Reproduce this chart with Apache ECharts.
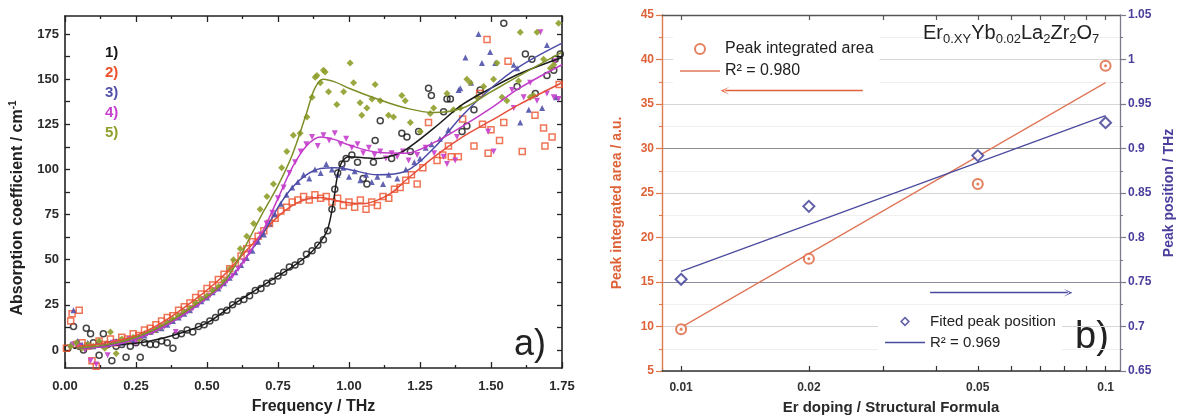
<!DOCTYPE html>
<html>
<head>
<meta charset="utf-8">
<script src="https://cdn.jsdelivr.net/npm/echarts@6/dist/echarts.min.js"></script>
<style>
html, body { margin: 0; padding: 0; background: #fff; }
#main { width: 1181px; height: 420px; }
</style>
</head>
<body>
<div id="main"></div>
<script>
// panel a) absorption spectra as [frequency THz, absorption cm-1]
var s1Points = [[0.01,1],[0.03,13],[0.05,2],[0.065,0],[0.075,12],[0.09,9],[0.1,4],[0.12,-3],[0.135,9],[0.15,3],[0.165,-6],[0.18,2],[0.2,3],[0.215,-4],[0.23,2],[0.25,4],[0.265,-4],[0.28,4],[0.3,3],[0.32,3],[0.34,5],[0.36,4],[0.38,1],[0.39,8],[0.41,9],[0.43,11],[0.45,10],[0.47,13],[0.49,14],[0.51,16],[0.53,18],[0.55,21],[0.57,22],[0.59,25],[0.61,27],[0.63,28],[0.65,30],[0.67,33],[0.69,34],[0.71,37],[0.73,38],[0.75,41],[0.77,43],[0.79,46],[0.81,47],[0.83,49],[0.85,53],[0.87,55],[0.89,58],[0.91,61],[0.925,66],[0.94,78],[0.95,89],[0.96,98],[0.975,103],[0.99,106],[1.01,108],[1.03,104],[1.05,95],[1.063,92],[1.086,104],[1.092,116],[1.11,127],[1.15,106],[1.186,120],[1.204,118],[1.216,110],[1.245,121],[1.28,145],[1.29,141],[1.333,132],[1.345,139],[1.357,139],[1.398,121],[1.415,124],[1.44,133],[1.462,144],[1.545,181],[1.592,146],[1.621,164],[1.644,161],[1.656,142],[1.697,152],[1.721,155],[1.726,161],[1.744,164]];
var s2Points = [[0.005,1],[0.02,16],[0.025,20],[0.05,22],[0.04,3],[0.06,4],[0.08,2],[0.095,-6],[0.11,-9],[0.12,5],[0.14,3],[0.16,6],[0.18,4],[0.2,7],[0.22,6],[0.24,9],[0.26,8],[0.28,11],[0.3,12],[0.32,14],[0.34,16],[0.36,18],[0.38,19],[0.4,22],[0.42,24],[0.44,26],[0.46,29],[0.48,31],[0.5,34],[0.52,36],[0.54,39],[0.56,42],[0.58,45],[0.6,48],[0.62,52],[0.64,56],[0.66,60],[0.68,63],[0.7,66],[0.72,70],[0.74,73],[0.76,77],[0.78,79],[0.8,82],[0.82,83],[0.84,85],[0.86,83],[0.88,86],[0.9,84],[0.92,85],[0.94,82],[0.96,84],[0.98,80],[1.0,82],[1.02,79],[1.04,83],[1.06,78],[1.08,82],[1.1,80],[1.12,85],[1.14,84],[1.16,89],[1.18,90],[1.2,94],[1.22,97],[1.24,92],[1.26,101],[1.28,126],[1.31,105],[1.33,108],[1.35,113],[1.36,107],[1.385,107],[1.4,128],[1.44,113],[1.46,142],[1.47,125],[1.486,172],[1.49,109],[1.5,122],[1.53,116],[1.545,126],[1.56,160],[1.61,110],[1.655,130],[1.685,123],[1.69,113],[1.715,118],[1.74,147]];
var s3Points = [[0.02,3],[0.03,22],[0.045,5],[0.06,3],[0.08,4],[0.1,2],[0.12,5],[0.14,3],[0.16,4],[0.18,5],[0.2,4],[0.22,6],[0.24,5],[0.26,7],[0.28,8],[0.3,10],[0.32,11],[0.34,12],[0.36,14],[0.38,16],[0.4,18],[0.42,20],[0.44,22],[0.46,25],[0.48,27],[0.5,29],[0.52,32],[0.54,34],[0.56,37],[0.58,40],[0.6,43],[0.62,47],[0.64,51],[0.66,55],[0.68,60],[0.7,64],[0.72,70],[0.74,75],[0.76,81],[0.78,86],[0.8,90],[0.82,93],[0.84,97],[0.86,95],[0.88,100],[0.9,98],[0.92,103],[0.94,100],[0.96,97],[0.98,101],[1.0,96],[1.02,99],[1.04,94],[1.06,97],[1.08,93],[1.1,96],[1.12,92],[1.14,97],[1.17,95],[1.2,100],[1.23,104],[1.25,106],[1.27,112],[1.29,114],[1.32,117],[1.35,122],[1.386,144],[1.392,145],[1.41,162],[1.43,148],[1.456,175],[1.468,159],[1.497,165],[1.515,159],[1.58,158],[1.592,156],[1.603,126],[1.633,133],[1.68,134],[1.697,169],[1.73,140]];
var s4Points = [[0.03,3],[0.05,2],[0.07,0],[0.09,-6],[0.11,-8],[0.13,2],[0.15,-3],[0.17,4],[0.19,3],[0.21,5],[0.23,6],[0.25,4],[0.27,7],[0.29,9],[0.31,10],[0.33,12],[0.35,13],[0.37,15],[0.39,10],[0.41,19],[0.43,21],[0.45,23],[0.47,25],[0.49,28],[0.51,30],[0.53,33],[0.55,35],[0.57,38],[0.59,41],[0.61,45],[0.63,49],[0.65,54],[0.67,59],[0.69,64],[0.71,70],[0.73,76],[0.75,84],[0.77,90],[0.79,98],[0.81,104],[0.83,110],[0.85,114],[0.87,118],[0.89,113],[0.91,119],[0.93,116],[0.95,120],[0.97,114],[0.99,117],[1.01,112],[1.03,114],[1.05,109],[1.07,112],[1.09,108],[1.11,110],[1.13,106],[1.15,109],[1.17,107],[1.19,110],[1.21,105],[1.24,108],[1.27,112],[1.3,109],[1.333,107],[1.345,103],[1.374,105],[1.38,118],[1.49,121],[1.509,110],[1.574,144],[1.58,134],[1.615,140],[1.638,148],[1.662,138],[1.674,176],[1.697,142],[1.721,140],[1.726,160],[1.738,139]];
var s5Points = [[0.02,2],[0.04,4],[0.06,1],[0.08,3],[0.1,2],[0.12,5],[0.14,1],[0.16,10],[0.18,-2],[0.2,6],[0.22,5],[0.24,7],[0.26,6],[0.28,9],[0.3,10],[0.32,11],[0.34,13],[0.36,15],[0.38,17],[0.4,19],[0.42,21],[0.44,23],[0.46,26],[0.48,28],[0.5,30],[0.52,33],[0.54,35],[0.56,38],[0.58,45],[0.593,50],[0.617,56],[0.64,63],[0.664,70],[0.687,78],[0.711,85],[0.734,92],[0.763,101],[0.781,110],[0.804,119],[0.828,120],[0.852,129],[0.87,140],[0.881,151],[0.887,152],[0.899,148],[0.91,155],[0.916,154],[0.928,143],[0.957,136],[0.981,143],[1.004,159],[1.016,148],[1.039,137],[1.045,130],[1.063,134],[1.081,139],[1.092,147],[1.11,138],[1.139,130],[1.157,129],[1.186,141],[1.198,138],[1.216,126],[1.251,121],[1.286,131],[1.298,134],[1.345,142],[1.368,133],[1.392,134],[1.415,150],[1.427,148],[1.45,140],[1.474,146],[1.509,150],[1.521,159],[1.539,140],[1.556,138],[1.597,149],[1.603,176],[1.638,140],[1.65,141],[1.662,176],[1.685,161],[1.709,156],[1.721,158],[1.738,181]];

// fitted curves of panel a)
var s1Fit = [[0.03,1],[0.1,1.5],[0.2,3],[0.3,5],[0.4,9],[0.5,15],[0.6,26],[0.7,36],[0.8,46],[0.86,53],[0.9,60],[0.925,67],[0.945,82],[0.96,97],[0.975,104],[1.0,107],[1.05,106.5],[1.1,106],[1.15,107.5],[1.2,111],[1.3,123],[1.4,136],[1.5,145],[1.6,153],[1.75,162]];
var s2Fit = [[0.04,2],[0.15,4],[0.25,8],[0.35,16],[0.45,27],[0.55,40],[0.65,57],[0.75,74],[0.8,80],[0.85,83.5],[0.9,84.5],[0.95,83],[1.0,81.5],[1.05,81],[1.1,83],[1.15,87],[1.2,94],[1.3,107],[1.4,118],[1.5,127],[1.6,136],[1.75,148]];
var s3Fit = [[0.04,1],[0.15,2],[0.25,6],[0.35,13],[0.45,23],[0.55,35],[0.6,43],[0.65,54],[0.7,65],[0.75,79],[0.8,90],[0.85,97],[0.9,100.5],[0.95,101],[1.0,100],[1.1,97],[1.2,99],[1.3,112],[1.4,130],[1.5,145],[1.6,157],[1.75,170]];
var s4Fit = [[0.04,1],[0.15,2],[0.25,6],[0.35,13],[0.45,23],[0.55,35],[0.6,43],[0.65,54],[0.7,67],[0.75,84],[0.8,101],[0.85,113],[0.9,118],[0.95,116.5],[1.0,113.5],[1.1,109.5],[1.2,109],[1.3,115],[1.4,124],[1.5,134],[1.6,145],[1.75,158]];
var s5Fit = [[0.04,1],[0.15,3],[0.25,7],[0.35,14],[0.45,24],[0.55,36],[0.6,47],[0.65,62],[0.7,77],[0.75,91],[0.8,108],[0.85,131],[0.88,145],[0.91,150],[0.95,148.5],[1.0,145],[1.1,139],[1.2,134],[1.3,131.5],[1.4,134],[1.5,143],[1.6,152],[1.75,165]];

var sampleLabels = ['1)', '2)', '3)', '4)', '5)'];
var absTicks = [0, 25, 50, 75, 100, 125, 150, 175];
var absMinorTicks = [12.5, 37.5, 62.5, 87.5, 112.5, 137.5, 162.5];

// panel b) peak area and position vs Er doping
var dopings = [0.01, 0.02, 0.05, 0.1];
var peakArea = [9.7, 17.6, 26.0, 39.3];
var peakPos = [0.753, 0.835, 0.892, 0.929];
var areaFit = [[0.01, 9.9], [0.1, 37.4]];
var posFit = [[0.01, 0.762], [0.1, 0.937]];
var dopingTicks = [0.01, 0.02, 0.05, 0.1];
var dopingMinorTicks = [0.03, 0.04, 0.06, 0.07, 0.08, 0.09];
var areaArrow = [[0.0268, 36.5], [0.0127, 36.5]];
var posArrow = [[0.0386, 0.738], [0.0815, 0.738]];

var FONT = '"Liberation Sans", Arial, sans-serif';
var sampleColors = ['#151515', '#ec512c', '#5252ab', '#c63fcd', '#909e2a'];
var fitColors = ['#1a1a1a', '#e5503a', '#4c4ca8', '#c23cc9', '#7e8e28'];
var ORANGE = '#dd6238';
var PURPLE = '#4a3e9c';
var LINE_ICON = 'path://M0,0 L40,0 L40,1.3 L0,1.3 Z';
var HOLLOW_DIAMOND = 'path://M5,0 L10,5 L5,10 L0,5 Z M5,2.2 L2.2,5 L5,7.8 L7.8,5 Z';

var lg = Math.log10;
function logPts(list) { return list.map(function (p) { return [lg(p[0]), p[1]]; }); }

var chart = echarts.init(document.getElementById('main'));

var frameLine = { onZero: false, lineStyle: { color: '#222', width: 1.6 } };
var tickStyle = { color: '#222', width: 1.3 };

var series = [];
var pointSets = [s1Points, s2Points, s3Points, s4Points, s5Points];
var fitSets = [s1Fit, s2Fit, s3Fit, s4Fit, s5Fit];
var symbols = ['circle', 'rect', 'triangle', 'triangle', 'diamond'];
pointSets.forEach(function (pts, i) {
  var hollow = i < 2;
  series.push({
    type: 'scatter', xAxisIndex: 0, yAxisIndex: 0, data: pts,
    symbol: symbols[i], symbolSize: i === 4 ? 7 : 6, symbolRotate: i === 3 ? 180 : 0,
    itemStyle: hollow
      ? { color: 'rgba(0,0,0,0)', borderColor: sampleColors[i], borderWidth: 1.5 }
      : { color: sampleColors[i], opacity: 0.9 },
    silent: true, z: 2
  });
});
fitSets.forEach(function (pts, i) {
  series.push({
    type: 'line', xAxisIndex: 0, yAxisIndex: 0, data: pts, smooth: 0.35,
    symbol: 'none', lineStyle: { color: fitColors[i], width: 1.5 }, silent: true, z: 3
  });
});

var arrowHead = 'path://M0,10 L5,0 L10,10 L5,3 Z';
series.push({
  name: 'Peak integrated area', type: 'scatter', xAxisIndex: 2, yAxisIndex: 2,
  data: dopings.map(function (d, i) { return [lg(d), peakArea[i]]; }),
  symbol: 'emptyCircle', symbolSize: 10, itemStyle: { color: ORANGE, borderWidth: 1.6 }, z: 4
});
series.push({
  type: 'scatter', xAxisIndex: 2, yAxisIndex: 2,
  data: dopings.map(function (d, i) { return [lg(d), peakArea[i]]; }),
  symbol: 'circle', symbolSize: 3, itemStyle: { color: ORANGE }, silent: true, z: 5
});
series.push({
  name: 'R² = 0.980', type: 'line', xAxisIndex: 2, yAxisIndex: 2, data: logPts(areaFit),
  symbol: 'none', itemStyle: { color: '#e07456' }, lineStyle: { color: '#e07456', width: 1.2 }, z: 3,
  markLine: {
    silent: true, symbol: ['none', arrowHead], symbolSize: [8, 9],
    lineStyle: { color: '#e0603c', width: 1.3, type: 'solid' }, label: { show: false },
    data: [[{ coord: [lg(areaArrow[0][0]), areaArrow[0][1]] }, { coord: [lg(areaArrow[1][0]), areaArrow[1][1]] }]]
  }
});
series.push({
  name: 'Fited peak position', type: 'scatter', xAxisIndex: 2, yAxisIndex: 3,
  data: dopings.map(function (d, i) { return [lg(d), peakPos[i]]; }),
  symbol: 'emptyDiamond', symbolSize: 11, itemStyle: { color: '#3a3894', borderWidth: 1.8 }, z: 4
});
series.push({
  name: 'R² = 0.969', type: 'line', xAxisIndex: 2, yAxisIndex: 3, data: logPts(posFit),
  symbol: 'none', itemStyle: { color: '#4a4a9e' }, lineStyle: { color: '#4a4a9e', width: 1.2 }, z: 3,
  markLine: {
    silent: true, symbol: ['none', arrowHead], symbolSize: [8, 9],
    lineStyle: { color: '#4a4a9e', width: 1.3, type: 'solid' }, label: { show: false },
    data: [[{ coord: [lg(posArrow[0][0]), posArrow[0][1]] }, { coord: [lg(posArrow[1][0]), posArrow[1][1]] }]]
  }
});

var logMajor = dopingTicks.map(lg);
var logAll = dopingTicks.concat(dopingMinorTicks).map(lg);

var legendBase = {
  orient: 'vertical', itemWidth: 40, itemHeight: 10, itemGap: 6,
  backgroundColor: '#fff', padding: [5, 6, 5, 7], selectedMode: false,
  textStyle: { fontFamily: FONT, fontSize: 16, color: '#222' }
};

var option = {
  animation: false,
  backgroundColor: '#fff',
  grid: [
    { left: 65, top: 16, width: 497, height: 357 },
    { left: 662, top: 15, width: 458, height: 361 }
  ],
  title: {
    text: '{n|Er}{s|0.XY}{n|Yb}{s|0.02}{n|La}{s|2}{n|Zr}{s|2}{n|O}{s|7}',
    left: 923, top: 20, padding: 0,
    textStyle: {
      fontWeight: 'normal',
      rich: {
        n: { fontFamily: FONT, fontWeight: 'normal', fontSize: 20, color: '#222', lineHeight: 26 },
        s: { fontFamily: FONT, fontWeight: 'normal', fontSize: 13, color: '#222', lineHeight: 13, verticalAlign: 'bottom' }
      }
    }
  },
  legend: [
    Object.assign({}, legendBase, {
      data: [{ name: 'Peak integrated area', icon: 'emptyCircle' }, { name: 'R² = 0.980', icon: LINE_ICON }],
      left: 673, top: 36 }),
    Object.assign({}, legendBase, {
      data: [{ name: 'Fited peak position', icon: HOLLOW_DIAMOND }, { name: 'R² = 0.969', icon: LINE_ICON }],
      left: 878, top: 309,
      textStyle: { fontFamily: FONT, fontSize: 15, color: '#222' } })
  ],
  xAxis: [
    {
      gridIndex: 0, type: 'value', position: 'bottom', min: 0, max: 1.75, interval: 0.25,
      axisLine: frameLine, axisTick: { inside: true, length: 6, lineStyle: tickStyle },
      minorTick: { show: true, splitNumber: 2, length: 3, lineStyle: tickStyle },
      axisLabel: { margin: 12, fontFamily: FONT, fontWeight: 'bold', fontSize: 13, color: '#2a2a2a',
        formatter: function (v) { return v.toFixed(2); } },
      splitLine: { show: false },
      name: 'Frequency / THz', nameLocation: 'middle', nameGap: 31,
      nameTextStyle: { fontFamily: FONT, fontWeight: 'bold', fontSize: 16, color: '#222' }
    },
    {
      gridIndex: 0, type: 'value', position: 'top', min: 0, max: 1.75, interval: 0.25,
      axisLine: frameLine, axisTick: { inside: true, length: 6, lineStyle: tickStyle },
      minorTick: { show: true, splitNumber: 2, length: 3, lineStyle: tickStyle },
      axisLabel: { show: false }, splitLine: { show: false }
    },
    {
      gridIndex: 1, type: 'value', position: 'bottom', min: -2.045, max: -0.966,
      axisLine: { onZero: false, lineStyle: { color: '#333', width: 1.5 } },
      axisTick: { inside: true, length: 5, customValues: logAll, lineStyle: { color: '#333', width: 1.2 } },
      axisLabel: { customValues: logMajor, margin: 11, fontFamily: FONT, fontWeight: 'bold', fontSize: 12, color: '#333',
        formatter: function (v) { return String(Number(Math.pow(10, v).toPrecision(2))); } },
      splitLine: { show: false },
      name: 'Er doping / Structural Formula', nameLocation: 'middle', nameGap: 29,
      nameTextStyle: { fontFamily: FONT, fontWeight: 'bold', fontSize: 15, color: '#2a2a2a' }
    },
    {
      gridIndex: 1, type: 'value', position: 'top', min: -2.045, max: -0.966,
      axisLine: { onZero: false, lineStyle: { color: '#555', width: 1.3 } },
      axisTick: { inside: true, length: 5, customValues: logAll, lineStyle: { color: '#555', width: 1.2 } },
      axisLabel: { show: false }, splitLine: { show: false }
    }
  ],
  yAxis: [
    {
      gridIndex: 0, type: 'value', position: 'left', min: -10, max: 185,
      axisLine: frameLine,
      axisTick: { inside: true, length: 5, customValues: absTicks.concat(absMinorTicks), lineStyle: tickStyle },
      axisLabel: { customValues: absTicks, margin: 6, fontFamily: FONT, fontWeight: 'bold', fontSize: 13, color: '#2a2a2a' },
      splitLine: { show: false },
      name: 'Absorption coefficient / cm{sup|-1}', nameLocation: 'middle', nameGap: 37,
      nameTextStyle: { fontFamily: FONT, fontWeight: 'bold', fontSize: 16, color: '#222', lineHeight: 20,
        padding: [0, 32, 0, 0],
        rich: { sup: { fontFamily: FONT, fontWeight: 'bold', fontSize: 10, color: '#222', lineHeight: 10, verticalAlign: 'top' } } }
    },
    {
      gridIndex: 0, type: 'value', position: 'right', min: -10, max: 185,
      axisLine: frameLine,
      axisTick: { inside: true, length: 5, customValues: absTicks.concat(absMinorTicks), lineStyle: tickStyle },
      axisLabel: { show: false }, splitLine: { show: false }
    },
    {
      gridIndex: 1, type: 'value', position: 'left', min: 5, max: 45, interval: 5,
      axisLine: { onZero: false, lineStyle: { color: '#e07a4c', width: 1.4 } },
      axisTick: { length: 6, lineStyle: { color: '#e07a4c', width: 1.2 } },
      minorTick: { show: true, splitNumber: 2, length: 3, lineStyle: { color: '#e07a4c', width: 1.1 } },
      axisLabel: { margin: 8, fontFamily: FONT, fontWeight: 'bold', fontSize: 12, color: ORANGE },
      splitLine: { show: true, lineStyle: { width: 1,
        color: ['#d6d6d6', '#d6d6d6', '#8e8e9e', '#d6d6d6', '#d6d6d6', '#8c8c8c', '#d6d6d6', '#d6d6d6', '#d6d6d6'] } },
      minorSplitLine: { show: true, lineStyle: { color: '#efefef', width: 1 } },
      name: 'Peak integrated area / a.u.', nameLocation: 'middle', nameGap: 38,
      nameTextStyle: { fontFamily: FONT, fontWeight: 'bold', fontSize: 14, color: ORANGE, padding: [0, 20, 0, 0] }
    },
    {
      gridIndex: 1, type: 'value', position: 'right', min: 0.65, max: 1.05, interval: 0.05,
      axisLine: { onZero: false, lineStyle: { color: '#7a7a8a', width: 1.3 } },
      axisTick: { length: 6, lineStyle: { color: '#7a7a8a', width: 1.2 } },
      minorTick: { show: true, splitNumber: 2, length: 3, lineStyle: { color: '#7a7a8a', width: 1.1 } },
      axisLabel: { margin: 8, fontFamily: FONT, fontWeight: 'bold', fontSize: 12, color: PURPLE },
      splitLine: { show: false },
      name: 'Peak position / THz', nameLocation: 'middle', nameGap: 42,
      nameTextStyle: { fontFamily: FONT, fontWeight: 'bold', fontSize: 14, color: PURPLE }
    }
  ],
  graphic: sampleLabels.map(function (t, i) {
    return { type: 'text', left: 105, top: 45 + i * 20,
      style: { text: t, fill: sampleColors[i], font: 'bold 15px ' + FONT } };
  }).concat([
    { type: 'text', left: 514, top: 327, style: { text: 'a)', fill: '#222', font: '36px ' + FONT } },
    { type: 'text', left: 1075, top: 319, style: { text: 'b)', fill: '#222', font: '38px ' + FONT } }
  ]),
  series: series
};

chart.setOption(option);
</script>
</body>
</html>
